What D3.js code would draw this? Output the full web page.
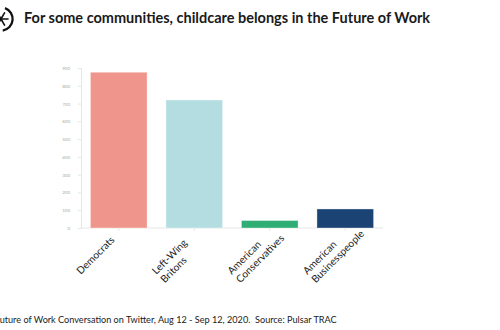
<!DOCTYPE html>
<html><head><meta charset="utf-8">
<script src="https://cdn.jsdelivr.net/npm/d3@7"></script>
<style>body{margin:0;background:#fff;} svg{display:block;}</style>
</head><body>
<svg id="c" width="500" height="330"></svg>
<script>
const categories = [["Democrats"], ["Left-Wing", "Britons"], ["American", "Conservatives"], ["American", "Businesspeople"]];
const values = [876, 720, 42, 107];
const colors = ["#F0958B", "#B3DDE1", "#2EAD74", "#1B4374"];
const yTicks = [0, 100, 200, 300, 400, 500, 600, 700, 800, 900];
const title = "For some communities, childcare belongs in the Future of Work";
const footer = "Future of Work Conversation on Twitter, Aug 12 - Sep 12, 2020.  Source: Pulsar TRAC";

const svg = d3.select("#c");
const keys = categories.map(c => c.join(" "));
const x = d3.scaleBand().domain(keys).range([81, 383]).paddingInner(0.25).paddingOuter(0.125);
const y = d3.scaleLinear().domain([0, 900]).range([228, 68]);

// logo
const logo = svg.append("g").attr("transform", "translate(1,19)");
logo.append("path").attr("d", d3.arc()({innerRadius: 10.5, outerRadius: 12.8, startAngle: 0.35, endAngle: Math.PI - 0.15}))
  .attr("fill", "#111");
logo.append("path").attr("d", d3.arc()({innerRadius: 10.5, outerRadius: 12.8, startAngle: Math.PI + 0.15, endAngle: 2 * Math.PI - 0.35}))
  .attr("fill", "#111");
[-60, 0, 60, 120, 180, 240].forEach(a => {
  const r = a * Math.PI / 180;
  logo.append("line").attr("x1", 0).attr("y1", 0).attr("x2", 7 * Math.cos(r)).attr("y2", 7 * Math.sin(r))
    .attr("stroke", "#111").attr("stroke-width", 1.6).attr("stroke-linecap", "round");
});

svg.append("text").attr("x", 24).attr("y", 22.5).attr("font-family", "Lato").attr("font-weight", 700)
  .attr("font-size", 14.5).attr("fill", "#1a1a1a").text(title);

// y axis
const ya = svg.append("g").attr("transform", "translate(81,0)")
  .call(d3.axisLeft(y).tickValues(yTicks).tickSize(3).tickPadding(8));
ya.select(".domain").attr("stroke", "#e6e6e6");
ya.selectAll(".tick line").attr("stroke", "#e6e6e6");
ya.selectAll(".tick text").attr("font-family", "Lato").attr("font-size", 4.5).attr("fill", "#aaa");

// x axis baseline
const xa = svg.append("g").attr("transform", "translate(0,228)")
  .call(d3.axisBottom(x).tickSize(3).tickFormat(""));
xa.select(".domain").attr("stroke", "#e6e6e6").attr("d", "M81,0H383");
xa.selectAll(".tick line").attr("stroke", "#e6e6e6");

// bars
svg.append("g").selectAll("rect").data(values).join("rect")
  .attr("x", (d, i) => x(keys[i]))
  .attr("width", x.bandwidth())
  .attr("y", d => y(d))
  .attr("height", d => y(0) - y(d))
  .attr("fill", (d, i) => colors[i])
  .attr("stroke", "rgba(255,255,255,0.35)").attr("stroke-width", 1);

// x labels (rotated, left-aligned lines)
categories.forEach((lines, i) => {
  const cx = x(keys[i]) + x.bandwidth() / 2 - 38;
  const t = svg.append("text").attr("transform", `translate(${cx},275) rotate(-45)`)
    .attr("text-anchor", "start").attr("font-family", "Lato").attr("font-size", 10.2).attr("fill", "#222");
  lines.forEach((l, j) => {
    t.append("tspan").attr("x", 0).attr("dy", j === 0 ? "0" : "1.18em").text(l);
  });
});

const ft = svg.append("text").attr("y", 323).attr("font-family", "Lato").attr("font-size", 9.15)
  .attr("fill", "#1a1a1a").style("white-space", "pre").text("F");
const fw = ft.node().getComputedTextLength();
ft.attr("x", -fw).text(footer);
</script>
</body></html>
